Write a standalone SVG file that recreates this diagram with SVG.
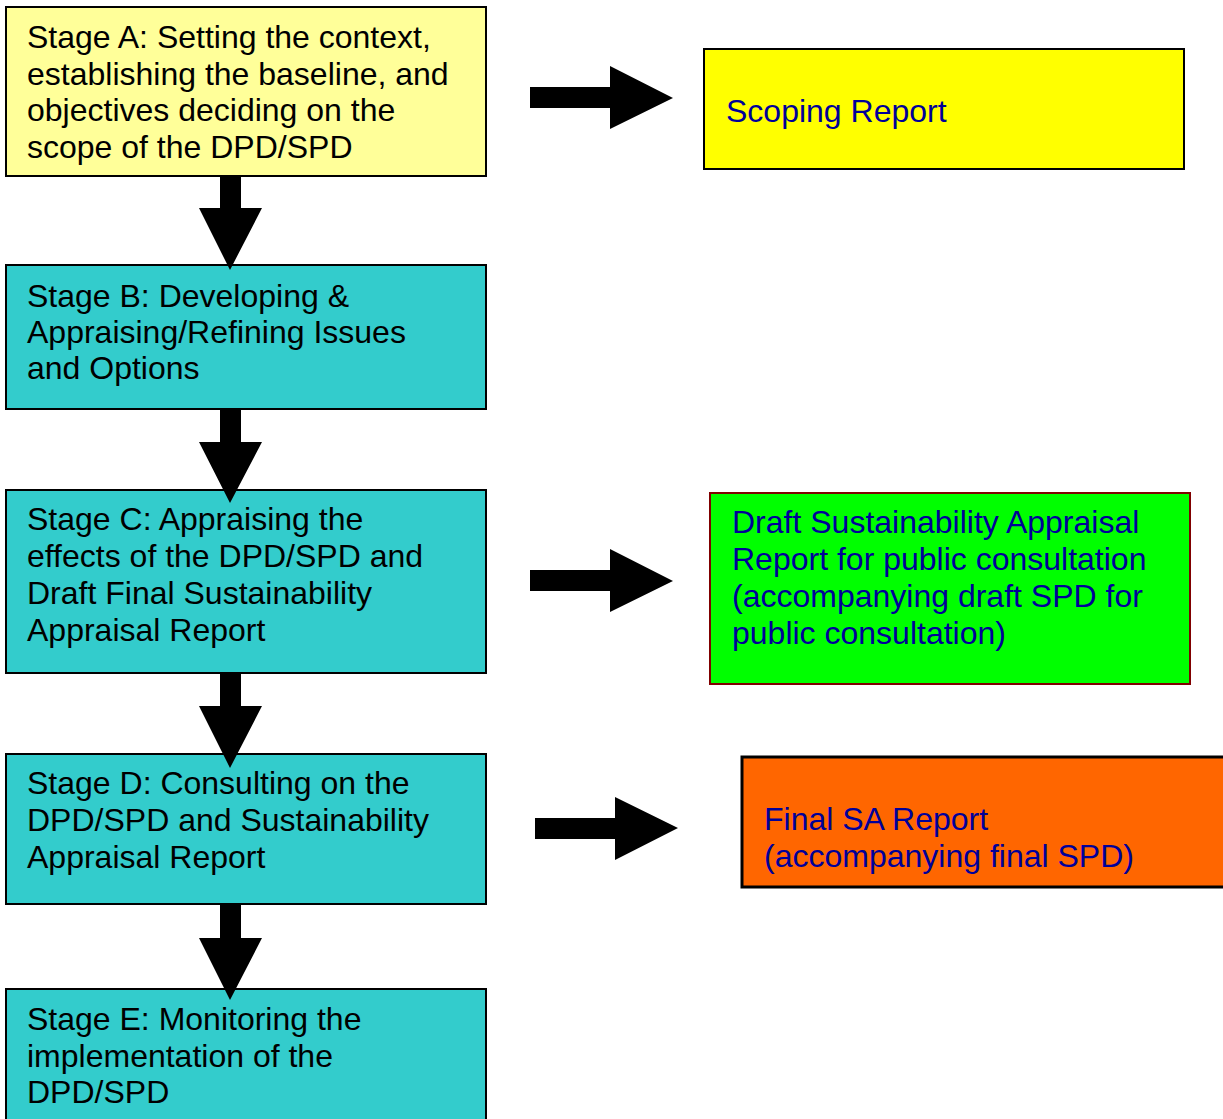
<svg xmlns="http://www.w3.org/2000/svg" width="1223" height="1119" viewBox="0 0 1223 1119">
<style>
.box{stroke:#000;stroke-width:2}
.stage{font-family:"Liberation Sans",Arial,sans-serif;font-size:32px;fill:#000}
.out{font-family:"Liberation Sans",Arial,sans-serif;font-size:32px;fill:#000099}
.arr{fill:#000}
</style>
<rect width="1223" height="1119" fill="#fff"/>
<g id="stageA">
<rect class="box" x="6" y="7" width="480" height="169" fill="#FFFF99"/>
<text class="stage" x="27" y="48">Stage A: Setting the context,</text>
<text class="stage" x="27" y="85">establishing the baseline, and</text>
<text class="stage" x="27" y="121">objectives deciding on the</text>
<text class="stage" x="27" y="158">scope of the DPD/SPD</text>
</g>
<g id="stageB">
<rect class="box" x="6" y="265" width="480" height="144" fill="#33CCCC"/>
<text class="stage" x="27" y="307">Stage B: Developing &amp;</text>
<text class="stage" x="27" y="343">Appraising/Refining Issues</text>
<text class="stage" x="27" y="379">and Options</text>
</g>
<g id="stageC">
<rect class="box" x="6" y="490" width="480" height="183" fill="#33CCCC"/>
<text class="stage" x="27" y="530">Stage C: Appraising the</text>
<text class="stage" x="27" y="567">effects of the DPD/SPD and</text>
<text class="stage" x="27" y="604">Draft Final Sustainability</text>
<text class="stage" x="27" y="641">Appraisal Report</text>
</g>
<g id="stageD">
<rect class="box" x="6" y="754" width="480" height="150" fill="#33CCCC"/>
<text class="stage" x="27" y="794">Stage D: Consulting on the</text>
<text class="stage" x="27" y="831">DPD/SPD and Sustainability</text>
<text class="stage" x="27" y="868">Appraisal Report</text>
</g>
<g id="stageE">
<rect class="box" x="6" y="989" width="480" height="140" fill="#33CCCC"/>
<text class="stage" x="27" y="1030">Stage E: Monitoring the</text>
<text class="stage" x="27" y="1067">implementation of the</text>
<text class="stage" x="27" y="1103">DPD/SPD</text>
</g>
<g id="scoping">
<rect class="box" x="704" y="49" width="480" height="120" fill="#FFFF00"/>
<text class="out" x="726" y="122">Scoping Report</text>
</g>
<g id="draftSA">
<rect x="710" y="493" width="480" height="191" fill="#00FF00" stroke="#800000" stroke-width="2"/>
<text class="out" x="732" y="533">Draft Sustainability Appraisal</text>
<text class="out" x="732" y="570">Report for public consultation</text>
<text class="out" x="732" y="607">(accompanying draft SPD for</text>
<text class="out" x="732" y="644">public consultation)</text>
</g>
<g id="finalSA">
<rect x="742" y="757" width="490" height="130" fill="#FF6600" stroke="#000" stroke-width="3"/>
<text class="out" x="764" y="830">Final SA Report</text>
<text class="out" x="764" y="867">(accompanying final SPD)</text>
</g>
<g id="connectors">
<polygon class="arr" points="220,176 241,176 241,208 262,208 230,270 199,208 220,208"/>
<polygon class="arr" points="220,409 241,409 241,442 262,442 230,503 199,442 220,442"/>
<polygon class="arr" points="220,673 241,673 241,706 262,706 230,768 199,706 220,706"/>
<polygon class="arr" points="220,905 241,905 241,938 262,938 230,1000 199,938 220,938"/>
<polygon class="arr" points="530,87 610,87 610,66 673,98 610,129 610,108 530,108"/>
<polygon class="arr" points="530,570 610,570 610,549 673,581 610,612 610,591 530,591"/>
<polygon class="arr" points="535,818 615,818 615,797 678,828 615,860 615,839 535,839"/>
</g>
</svg>
